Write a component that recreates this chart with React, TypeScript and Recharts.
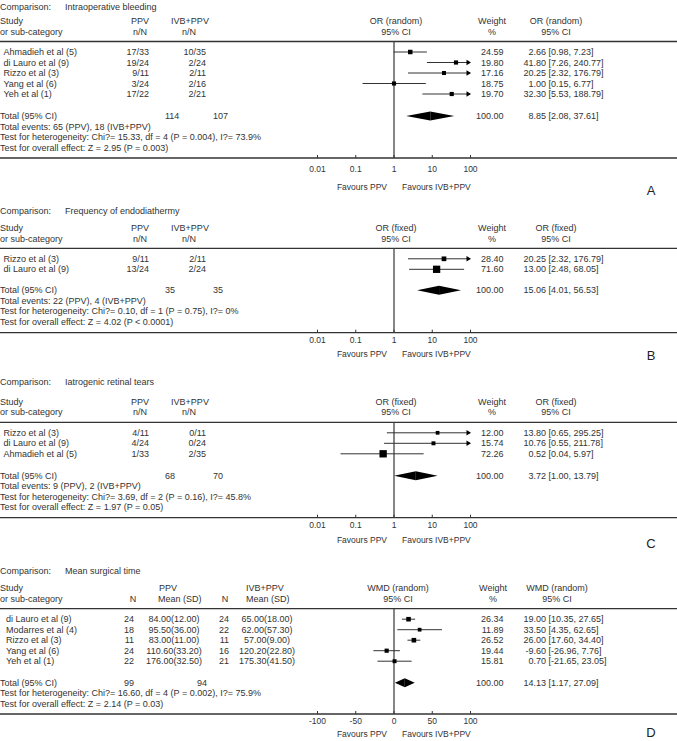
import React from "react";
import {
  ComposedChart,
  XAxis,
  YAxis,
  Scatter,
  ReferenceLine,
  ReferenceArea,
  Customized,
} from "recharts";

const FONT = "'Liberation Sans', Arial, sans-serif";
const INK = "#333333";
const ROW = 10.5;
const WIDTH = 677;

// A: intraoperative bleeding
const bleedStudies = ["Ahmadieh et al (5)", "di Lauro et al (9)", "Rizzo et al (3)", "Yang et al (6)", "Yeh et al (1)"];
const bleedPpvEvents = [17, 19, 9, 3, 17];
const bleedPpvTotal = [33, 24, 11, 24, 22];
const bleedIvbEvents = [10, 2, 2, 2, 2];
const bleedIvbTotal = [35, 24, 11, 16, 21];
const bleedWeight = [24.59, 19.8, 17.16, 18.75, 19.7];
const bleedOr = [2.66, 41.8, 20.25, 1.0, 32.3];
const bleedLow = [0.98, 7.26, 2.32, 0.15, 5.53];
const bleedHigh = [7.23, 240.77, 176.79, 6.77, 188.79];
const bleedTotals = [114, 107];
const bleedPooled = [8.85, 2.08, 37.61];
const bleedNotes = [
  "Total events: 65 (PPV), 18 (IVB+PPV)",
  "Test for heterogeneity: Chi?= 15.33, df = 4 (P = 0.004), I?= 73.9%",
  "Test for overall effect: Z = 2.95 (P = 0.003)",
];

// B: frequency of endodiathermy
const diaStudies = ["Rizzo et al (3)", "di Lauro et al (9)"];
const diaPpvEvents = [9, 13];
const diaPpvTotal = [11, 24];
const diaIvbEvents = [2, 2];
const diaIvbTotal = [11, 24];
const diaWeight = [28.4, 71.6];
const diaOr = [20.25, 13.0];
const diaLow = [2.32, 2.48];
const diaHigh = [176.79, 68.05];
const diaTotals = [35, 35];
const diaPooled = [15.06, 4.01, 56.53];
const diaNotes = [
  "Total events: 22 (PPV), 4 (IVB+PPV)",
  "Test for heterogeneity: Chi?= 0.10, df = 1 (P = 0.75), I?= 0%",
  "Test for overall effect: Z = 4.02 (P < 0.0001)",
];

// C: iatrogenic retinal tears
const tearStudies = ["Rizzo et al (3)", "di Lauro et al (9)", "Ahmadieh et al (5)"];
const tearPpvEvents = [4, 4, 1];
const tearPpvTotal = [11, 24, 33];
const tearIvbEvents = [0, 0, 2];
const tearIvbTotal = [11, 24, 35];
const tearWeight = [12.0, 15.74, 72.26];
const tearOr = [13.8, 10.76, 0.52];
const tearLow = [0.65, 0.55, 0.04];
const tearHigh = [295.25, 211.78, 5.97];
const tearTotals = [68, 70];
const tearPooled = [3.72, 1.0, 13.79];
const tearNotes = [
  "Total events: 9 (PPV), 2 (IVB+PPV)",
  "Test for heterogeneity: Chi?= 3.69, df = 2 (P = 0.16), I?= 45.8%",
  "Test for overall effect: Z = 1.97 (P = 0.05)",
];

// D: mean surgical time
const timeStudies = ["di Lauro et al (9)", "Modarres et al (4)", "Rizzo et al (3)", "Yang et al (6)", "Yeh et al (1)"];
const timePpvN = [24, 18, 11, 24, 22];
const timePpvMean = [84.0, 95.5, 83.0, 110.6, 176.0];
const timePpvSd = [12.0, 36.0, 11.0, 33.2, 32.5];
const timeIvbN = [24, 22, 11, 16, 21];
const timeIvbMean = [65.0, 62.0, 57.0, 120.2, 175.3];
const timeIvbSd = [18.0, 57.3, 9.0, 22.8, 41.5];
const timeWeight = [26.34, 11.89, 26.52, 19.44, 15.81];
const timeWmd = [19.0, 33.5, 26.0, -9.6, 0.7];
const timeLow = [10.35, 4.35, 17.6, -26.96, -21.65];
const timeHigh = [27.65, 62.65, 34.4, 7.76, 23.05];
const timeTotals = [99, 94];
const timePooled = [14.13, 1.17, 27.09];
const timeNotes = [
  "Test for heterogeneity: Chi?= 16.60, df = 4 (P = 0.002), I?= 75.9%",
  "Test for overall effect: Z = 2.14 (P = 0.03)",
];

const logTicks = [0.01, 0.1, 1, 10, 100];
const wmdTicks = [-100, -50, 0, 50, 100];

type Cell = { x: number; y: number; text: string; anchor?: "start" | "middle" | "end" };
type Mark = { k: number; est: number; low: number; high: number; weight: number };

const f2 = (v: number) => v.toFixed(2);

function effectCells(y: number, est: number, low: number, high: number): Cell[] {
  return [
    { x: 546, y, text: f2(est), anchor: "end" },
    { x: 548.5, y, text: `[${f2(low)}, ${f2(high)}]` },
  ];
}

function orPanel(o: any) {
  const rowY = (k: number) => o.rule + ROW * k;
  const cells: Cell[] = [
    { x: 0, y: o.studyY, text: "Study" },
    { x: 140, y: o.studyY, text: "PPV", anchor: "middle" },
    { x: 190, y: o.studyY, text: "IVB+PPV", anchor: "middle" },
    { x: 396, y: o.studyY, text: o.method, anchor: "middle" },
    { x: 492, y: o.studyY, text: "Weight", anchor: "middle" },
    { x: 556, y: o.studyY, text: o.method, anchor: "middle" },
    { x: 0, y: o.subY, text: "or sub-category" },
    { x: 140, y: o.subY, text: "n/N", anchor: "middle" },
    { x: 189, y: o.subY, text: "n/N", anchor: "middle" },
    { x: 396, y: o.subY, text: "95% CI", anchor: "middle" },
    { x: 492, y: o.subY, text: "%", anchor: "middle" },
    { x: 556, y: o.subY, text: "95% CI", anchor: "middle" },
  ];
  const marks: Mark[] = [];
  o.studies.forEach((s: string, i: number) => {
    const y = rowY(i + 1);
    cells.push(
      { x: 3.5, y, text: s },
      { x: 149, y, text: `${o.ppvE[i]}/${o.ppvT[i]}`, anchor: "end" },
      { x: 206, y, text: `${o.ivbE[i]}/${o.ivbT[i]}`, anchor: "end" },
      { x: 503.5, y, text: f2(o.weight[i]), anchor: "end" },
      ...effectCells(y, o.est[i], o.low[i], o.high[i])
    );
    marks.push({ k: i + 1, est: o.est[i], low: o.low[i], high: o.high[i], weight: o.weight[i] });
  });
  const ty = rowY(o.totalK);
  cells.push(
    { x: 0, y: ty, text: "Total (95% CI)" },
    { x: 165, y: ty, text: String(o.totals[0]) },
    { x: 213, y: ty, text: String(o.totals[1]) },
    { x: 503.5, y: ty, text: "100.00", anchor: "end" },
    ...effectCells(ty, o.pooled[0], o.pooled[1], o.pooled[2])
  );
  o.notes.forEach((n: string, i: number) => cells.push({ x: 0, y: rowY(o.totalK + 1 + i), text: n }));
  return {
    ...o,
    cells,
    marks,
    pooledMark: { k: o.totalK, est: o.pooled[0], low: o.pooled[1], high: o.pooled[2] },
    log: true,
    domain: [0.01, 100],
    ticks: logTicks,
    nullValue: 1,
  };
}

function wmdPanel(o: any) {
  const rowY = (k: number) => o.rule + ROW * k;
  const cells: Cell[] = [
    { x: 0, y: o.studyY, text: "Study" },
    { x: 159, y: o.studyY, text: "PPV" },
    { x: 246, y: o.studyY, text: "IVB+PPV" },
    { x: 398, y: o.studyY, text: "WMD (random)", anchor: "middle" },
    { x: 493, y: o.studyY, text: "Weight", anchor: "middle" },
    { x: 557, y: o.studyY, text: "WMD (random)", anchor: "middle" },
    { x: 0, y: o.subY, text: "or sub-category" },
    { x: 133, y: o.subY, text: "N", anchor: "middle" },
    { x: 158, y: o.subY, text: "Mean (SD)" },
    { x: 225, y: o.subY, text: "N", anchor: "middle" },
    { x: 246, y: o.subY, text: "Mean (SD)" },
    { x: 398, y: o.subY, text: "95% CI", anchor: "middle" },
    { x: 493, y: o.subY, text: "%", anchor: "middle" },
    { x: 557, y: o.subY, text: "95% CI", anchor: "middle" },
  ];
  const marks: Mark[] = [];
  timeStudies.forEach((s, i) => {
    const y = rowY(i + 1);
    cells.push(
      { x: 6, y, text: s },
      { x: 134, y, text: String(timePpvN[i]), anchor: "end" },
      { x: 174, y, text: `${f2(timePpvMean[i])}(${f2(timePpvSd[i])})`, anchor: "middle" },
      { x: 229, y, text: String(timeIvbN[i]), anchor: "end" },
      { x: 267, y, text: `${f2(timeIvbMean[i])}(${f2(timeIvbSd[i])})`, anchor: "middle" },
      { x: 503.5, y, text: f2(timeWeight[i]), anchor: "end" },
      ...effectCells(y, timeWmd[i], timeLow[i], timeHigh[i])
    );
    marks.push({ k: i + 1, est: timeWmd[i], low: timeLow[i], high: timeHigh[i], weight: timeWeight[i] });
  });
  const ty = rowY(o.totalK);
  cells.push(
    { x: 0, y: ty, text: "Total (95% CI)" },
    { x: 134, y: ty, text: String(timeTotals[0]), anchor: "end" },
    { x: 207, y: ty, text: String(timeTotals[1]), anchor: "end" },
    { x: 503.5, y: ty, text: "100.00", anchor: "end" },
    ...effectCells(ty, timePooled[0], timePooled[1], timePooled[2])
  );
  timeNotes.forEach((n, i) => cells.push({ x: 0, y: rowY(o.totalK + 1 + i), text: n }));
  return {
    ...o,
    cells,
    marks,
    pooledMark: { k: o.totalK, est: timePooled[0], low: timePooled[1], high: timePooled[2] },
    log: false,
    domain: [-100, 100],
    ticks: wmdTicks,
    nullValue: 0,
  };
}

const panels = [
  orPanel({
    letter: "A", title: "Intraoperative bleeding", method: "OR (random)",
    top: 0, height: 200, rule: 41.5, axisY: 158, titleY: 6.5, studyY: 20.5, subY: 31.5,
    totalK: 7.1, tickMargin: 11, favY: 187, letterY: 190,
    studies: bleedStudies, ppvE: bleedPpvEvents, ppvT: bleedPpvTotal, ivbE: bleedIvbEvents, ivbT: bleedIvbTotal,
    weight: bleedWeight, est: bleedOr, low: bleedLow, high: bleedHigh,
    totals: bleedTotals, pooled: bleedPooled, notes: bleedNotes,
  }),
  orPanel({
    letter: "B", title: "Frequency of endodiathermy", method: "OR (fixed)",
    top: 200, height: 170, rule: 48.3, axisY: 132.7, titleY: 10.7, studyY: 27.5, subY: 38.5,
    totalK: 4, tickMargin: 7.3, favY: 154, letterY: 155,
    studies: diaStudies, ppvE: diaPpvEvents, ppvT: diaPpvTotal, ivbE: diaIvbEvents, ivbT: diaIvbTotal,
    weight: diaWeight, est: diaOr, low: diaLow, high: diaHigh,
    totals: diaTotals, pooled: diaPooled, notes: diaNotes,
  }),
  orPanel({
    letter: "C", title: "Iatrogenic retinal tears", method: "OR (fixed)",
    top: 370, height: 185, rule: 52.3, axisY: 147.7, titleY: 12, studyY: 31.5, subY: 42,
    totalK: 5.1, tickMargin: 7.3, favY: 170, letterY: 173,
    studies: tearStudies, ppvE: tearPpvEvents, ppvT: tearPpvTotal, ivbE: tearIvbEvents, ivbT: tearIvbTotal,
    weight: tearWeight, est: tearOr, low: tearLow, high: tearHigh,
    totals: tearTotals, pooled: tearPooled, notes: tearNotes,
  }),
  wmdPanel({
    letter: "D", title: "Mean surgical time",
    top: 555, height: 186, rule: 53.7, axisY: 159, titleY: 15.7, studyY: 33, subY: 43.7,
    totalK: 7.05, tickMargin: 7, favY: 179, letterY: 177,
  }),
];

const Box = (props: any) => {
  const w = props.payload?.w ?? props.w;
  const s = 3 + 0.06 * w;
  return <rect x={props.cx - s / 2} y={props.cy - s / 2} width={s} height={s} fill="#000" />;
};

const ArrowHead = (props: any) => (
  <polygon
    points={`${props.cx + 0.5},${props.cy} ${props.cx - 4},${props.cy - 2.7} ${props.cx - 4},${props.cy + 2.7}`}
    fill="#000"
  />
);

const LeftHalf = (props: any) => {
  const { x, y, width, height } = props;
  return <polygon points={`${x},${y + height / 2} ${x + width},${y} ${x + width},${y + height}`} fill="#000" />;
};

const RightHalf = (props: any) => {
  const { x, y, width, height } = props;
  return <polygon points={`${x},${y} ${x + width},${y + height / 2} ${x},${y + height}`} fill="#000" />;
};

function PanelText({ p }: { p: any }) {
  return (
    <g fontFamily={FONT} fill={INK}>
      <line x1={0} x2={WIDTH} y1={p.rule} y2={p.rule} stroke={INK} strokeWidth={1.3} />
      <line x1={0} x2={WIDTH} y1={p.axisY} y2={p.axisY} stroke={INK} strokeWidth={1.3} />
      <text x={0} y={p.titleY + 3} fontSize={9}>Comparison:</text>
      <text x={65} y={p.titleY + 3} fontSize={9}>{p.title}</text>
      {p.cells.map((c: Cell, i: number) => (
        <text key={i} x={c.x} y={c.y + 3} fontSize={9} textAnchor={c.anchor || "start"}>
          {c.text}
        </text>
      ))}
      <text x={387} y={p.favY + 3} fontSize={8.5} textAnchor="end">Favours PPV</text>
      <text x={402} y={p.favY + 3} fontSize={8.5}>Favours IVB+PPV</text>
      <text x={651} y={p.letterY + 4.6} fontSize={13} textAnchor="middle" fill="#222">
        {p.letter}
      </text>
    </g>
  );
}

function ForestPanel({ p }: { p: any }) {
  const yMax = (p.axisY - p.rule) / ROW;
  const [dMin, dMax] = p.domain;
  const clip = (v: number) => Math.min(dMax, Math.max(dMin, v));
  const boxes = p.marks.map((m: Mark) => ({ x: m.est, y: m.k, w: m.weight }));
  const arrows = p.marks.filter((m: Mark) => m.high > dMax).map((m: Mark) => ({ x: dMax, y: m.k }));
  const d = p.pooledMark;
  const half = 4.5 / ROW;
  return (
    <div style={{ position: "absolute", left: 0, top: p.top }}>
      <ComposedChart
        width={WIDTH}
        height={p.height}
        margin={{ top: p.rule, left: 317.5, right: WIDTH - 470.5, bottom: p.height - p.axisY - 20 }}
      >
        <XAxis
          type="number"
          dataKey="x"
          scale={p.log ? "log" : "linear"}
          domain={p.domain}
          ticks={p.ticks}
          interval={0}
          allowDataOverflow
          axisLine={false}
          tickLine={{ stroke: INK }}
          tickSize={-3}
          tickMargin={p.tickMargin}
          height={20}
          tick={{ fontSize: 8.5, fill: INK, fontFamily: FONT }}
        />
        <YAxis type="number" dataKey="y" domain={[0, yMax]} reversed hide allowDataOverflow />
        <Customized component={() => <PanelText p={p} />} />
        <ReferenceLine x={p.nullValue} stroke="#444" strokeWidth={1.3} ifOverflow="visible" />
        {p.marks.map((m: Mark, i: number) => (
          <ReferenceLine
            key={`ci${i}`}
            segment={[
              { x: clip(m.low), y: m.k },
              { x: clip(m.high), y: m.k },
            ]}
            stroke={INK}
            strokeWidth={1}
            ifOverflow="visible"
          />
        ))}
        <ReferenceArea
          x1={d.low}
          x2={d.est}
          y1={d.k - half}
          y2={d.k + half}
          ifOverflow="visible"
          shape={LeftHalf}
        />
        <ReferenceArea
          x1={d.est}
          x2={d.high}
          y1={d.k - half}
          y2={d.k + half}
          ifOverflow="visible"
          shape={RightHalf}
        />
        <Scatter data={boxes} shape={Box} isAnimationActive={false} />
        <Scatter data={arrows} shape={ArrowHead} isAnimationActive={false} />
      </ComposedChart>
    </div>
  );
}

export default function App() {
  return (
    <div style={{ position: "absolute", left: 0, top: 0, width: WIDTH, height: 741, background: "#fff" }}>
      {panels.map((p) => (
        <ForestPanel key={p.letter} p={p} />
      ))}
    </div>
  );
}
